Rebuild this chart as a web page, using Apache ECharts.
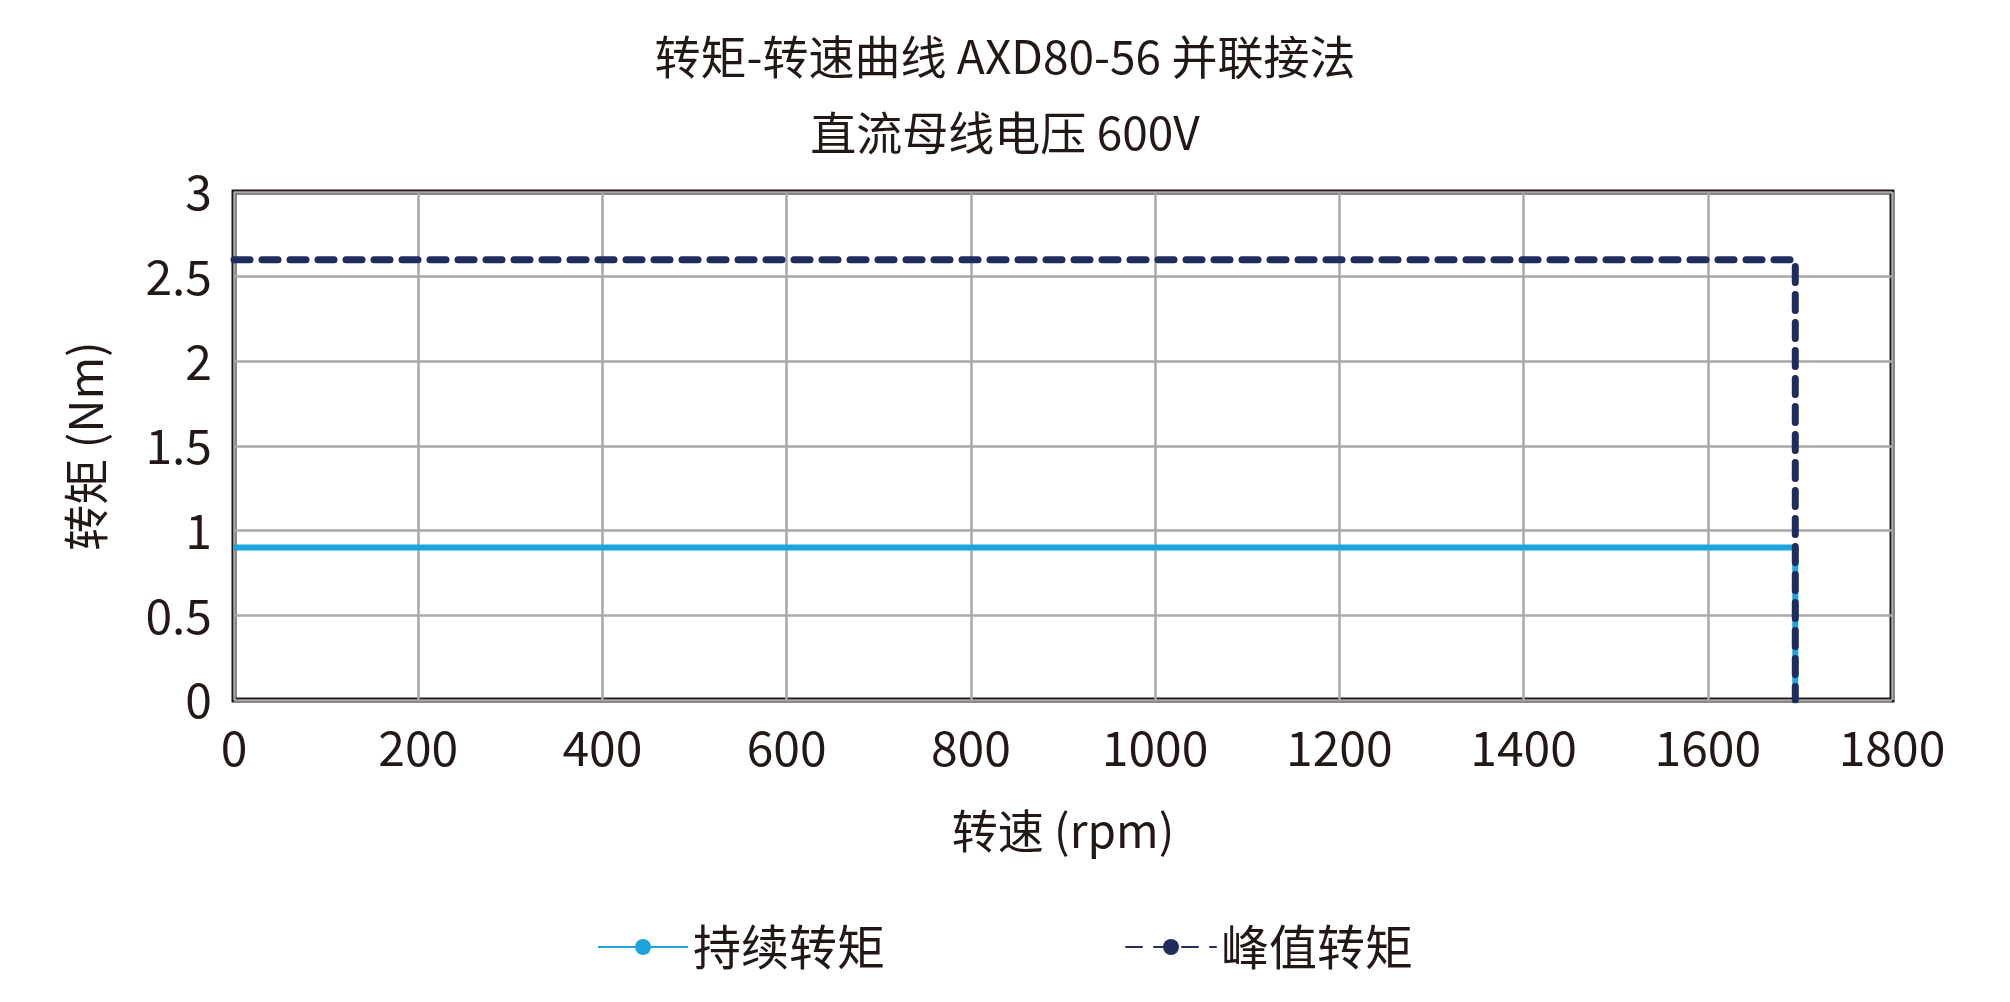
<!DOCTYPE html><html><head><meta charset="utf-8"><script src="https://cdn.jsdelivr.net/npm/echarts@6/dist/echarts.min.js"></script>
<style>html,body{margin:0;background:#fff}#c{width:2010px;height:1002px}</style></head><body><div id="c"></div><script>
const speedCont=[0,1695,1695];
const torqueCont=[0.9,0.9,0];
const speedPeak=[0,1695,1695];
const torquePeak=[2.6,2.6,0];
const seriesNames=['持续转矩','峰值转矩'];
const F='"Noto Sans CJK SC","Noto Sans",sans-serif';
const ch=echarts.init(document.getElementById('c'));
ch.setOption({
animation:false,
title:{text:'转矩-转速曲线 AXD80-56 并联接法\n直流母线电压 600V',left:'center',top:14,textStyle:{fontFamily:F,fontSize:46,fontWeight:'normal',color:'#231815',lineHeight:76}},
grid:{left:234,right:118,top:192,bottom:302,show:true,borderColor:'#231815',borderWidth:5},
legend:{bottom:26,itemGap:240,itemWidth:90,itemHeight:20,textStyle:{fontFamily:F,fontSize:48,color:'#231815'},data:seriesNames},
xAxis:{type:'value',min:0,max:1800,interval:200,name:'转速 (rpm)',nameLocation:'middle',nameGap:108,nameTextStyle:{fontFamily:F,fontSize:46,color:'#231815'},
axisLine:{show:false},axisTick:{show:false},axisLabel:{fontFamily:F,fontSize:48,color:'#231815',margin:24,formatter:v=>String(v)},splitLine:{lineStyle:{color:'#a8a8a8',width:2.5}}},
yAxis:{type:'value',min:0,max:3,interval:0.5,name:'转矩 (Nm)',nameLocation:'middle',nameGap:125,nameTextStyle:{fontFamily:F,fontSize:46,color:'#231815'},
axisLine:{show:false},axisTick:{show:false},axisLabel:{fontFamily:F,fontSize:48,color:'#231815',margin:22},splitLine:{lineStyle:{color:'#a8a8a8',width:2.5}}},
series:[
{name:seriesNames[0],type:'line',symbol:'none',data:speedCont.map((x,i)=>[x,torqueCont[i]]),lineStyle:{color:'#1fa3dc',width:6},itemStyle:{color:'#1fa3dc'}},
{name:seriesNames[1],type:'line',symbol:'none',data:speedPeak.map((x,i)=>[x,torquePeak[i]]),lineStyle:{color:'#1f2d5c',width:7,type:[16,12],cap:'round'},itemStyle:{color:'#1f2d5c'}}
]});
</script></body></html>
